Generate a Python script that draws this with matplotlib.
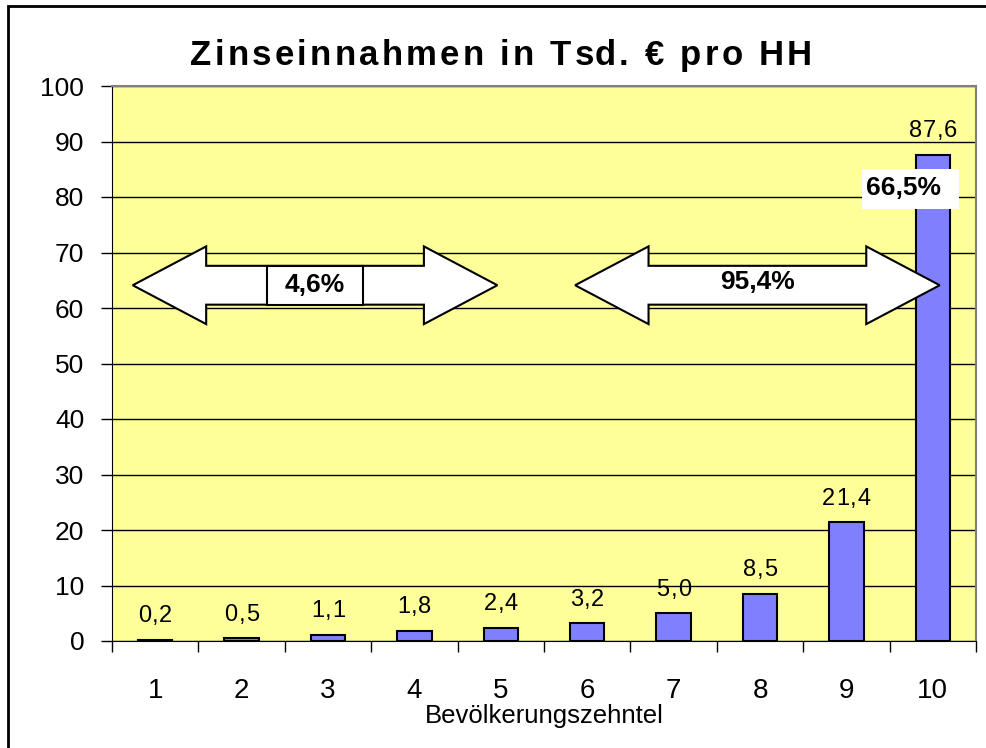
import matplotlib.pyplot as plt
from matplotlib.patches import Polygon, Rectangle
from matplotlib.transforms import IdentityTransform

plt.rcParams['font.family'] = ['Liberation Sans', 'DejaVu Sans']

deciles = ['1', '2', '3', '4', '5', '6', '7', '8', '9', '10']
income = [0.2, 0.5, 1.1, 1.8, 2.4, 3.2, 5.0, 8.5, 21.4, 87.6]
labels = ['0,2', '0,5', '1,1', '1,8', '2,4', '3,2', '5,0', '8,5', '21,4', '87,6']
title = 'Zinseinnahmen in Tsd. € pro HH'
share_low = '4,6%'
share_high = '95,4%'
share_top = '66,5%'


def arrow(ax, x0, x1, y, head_len, head_half, shaft_half):
    pts = [(x0, y), (x0 + head_len, y + head_half), (x0 + head_len, y + shaft_half),
           (x1 - head_len, y + shaft_half), (x1 - head_len, y + head_half), (x1, y),
           (x1 - head_len, y - head_half), (x1 - head_len, y - shaft_half),
           (x0 + head_len, y - shaft_half), (x0 + head_len, y - head_half)]
    ax.add_patch(Polygon(pts, closed=True, facecolor='white', edgecolor='black',
                         linewidth=1.5, zorder=5))


def spaced_text(fig, xc, yc, s, gap=None, target=None, **kw):
    # draw s centred on pixel (xc, yc) (cap-height centre) with extra letter spacing
    r = fig.canvas.get_renderer()

    def width(txt):
        t = fig.text(0, 0, txt, **kw)
        w = t.get_window_extent(r).width
        t.remove()
        return w

    base = width('||')
    offs = [width('|' + s[:i] + '|') - base for i in range(len(s))]
    if target is not None:
        gap = (target - width(s)) / (len(s) - 1)
    total = width(s) + gap * (len(s) - 1)
    x0 = xc - total / 2
    cap = 0.716 * kw['fontsize'] * fig.dpi / 72
    for i, ch in enumerate(s):
        if ch != ' ':
            fig.text(x0 + offs[i] + gap * i, yc - cap / 2, ch, transform=IdentityTransform(),
                     ha='left', va='baseline', **kw)


fig = plt.figure(figsize=(9.87, 7.48), dpi=100)
ax = fig.add_axes([112 / 987, 1 - 641 / 748, (976 - 112) / 987, (641 - 86) / 748])
ax.set_facecolor('#FFFF99')

x = list(range(len(income)))
ax.bar(x, income, width=0.4, color='#8080FF', edgecolor='black', linewidth=1.5, zorder=3)

ax.set_xlim(-0.5, 9.5)
ax.set_ylim(0, 100)
ax.set_yticks(range(0, 101, 10))
ax.yaxis.grid(True, color='black', linewidth=1)
ax.set_axisbelow(True)

ax.set_xticks([i + 0.5 for i in range(-1, 10)], minor=False)
ax.set_xticklabels([])
ax.set_xticks(x, minor=True)
ax.set_xticklabels(deciles, minor=True, fontsize=20)
ax.tick_params(axis='x', which='major', direction='out', length=8, width=1)
ax.tick_params(axis='x', which='minor', length=0, pad=27)
ax.tick_params(axis='y', direction='out', length=8, width=1, pad=12, labelsize=19)
ax.set_xlabel('Bevölkerungszehntel', fontsize=18.5, labelpad=0)

for s in ['top', 'right']:
    ax.spines[s].set_color('#808080')
    ax.spines[s].set_linewidth(1.5)
for s in ['left', 'bottom']:
    ax.spines[s].set_color('black')

# value labels above the bars
for xi, v, lab in zip(x, income, labels):
    px, py = ax.transData.transform((xi, v))
    spaced_text(fig, px, py + 26, lab, gap=0.8, fontsize=17)

# arrows with share annotations
arrow(ax, -0.26, 3.96, 64.1, 0.85, 7.0, 3.5)
arrow(ax, 4.86, 9.08, 64.1, 0.85, 7.0, 3.5)
ax.add_patch(Rectangle((1.294, 60.6), 1.111, 7.0, facecolor='white', edgecolor='black',
                       linewidth=1.5, zorder=6))
ax.text(1.85, 64.1, share_low, ha='center', va='center', fontsize=19,
        fontweight='bold', zorder=7)
ax.text(6.97, 64.6, share_high, ha='center', va='center', fontsize=19,
        fontweight='bold', zorder=7)
ax.add_patch(Rectangle((8.18, 77.8), 1.12, 7.2, facecolor='white', edgecolor='none', zorder=6))
ax.text(8.23, 81.6, share_top, ha='left', va='center', fontsize=19,
        fontweight='bold', zorder=7)

spaced_text(fig, 501, 748 - 53, title, target=622, fontsize=25, fontweight='bold')

fig.patches.append(Rectangle((8 / 987, -0.1), 1.2, 1 - 6 / 748 + 0.1, transform=fig.transFigure,
                             fill=False, edgecolor='black', linewidth=2))

fig.savefig('out.png', dpi=100)
